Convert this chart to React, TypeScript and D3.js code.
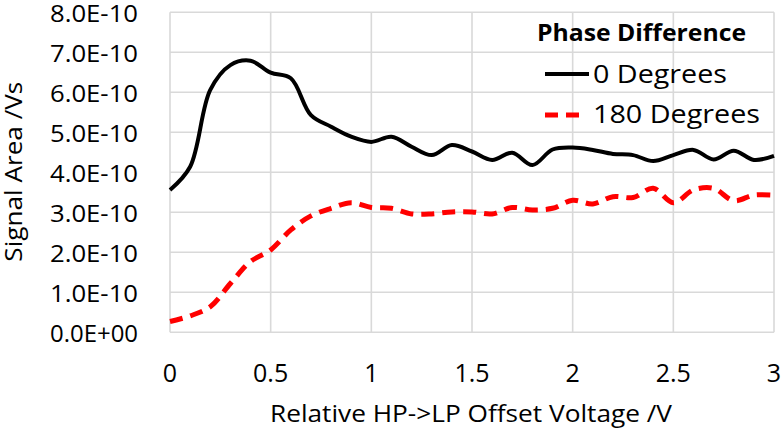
import React from "react";
import * as d3 from "d3";

const voltages = [0, 0.1, 0.2, 0.3, 0.4, 0.5, 0.6, 0.7, 0.8, 0.9, 1.0, 1.1, 1.2, 1.3, 1.4, 1.5, 1.6, 1.7, 1.8, 1.9, 2.0, 2.1, 2.2, 2.3, 2.4, 2.5, 2.6, 2.7, 2.8, 2.9, 3.0];
const deg0 = [3.56, 4.14, 6.06, 6.68, 6.79, 6.49, 6.35, 5.43, 5.14, 4.89, 4.76, 4.89, 4.64, 4.43, 4.68, 4.52, 4.31, 4.49, 4.18, 4.57, 4.62, 4.56, 4.46, 4.43, 4.28, 4.43, 4.56, 4.32, 4.54, 4.31, 4.41].map((v) => v * 1e-10);
const deg180 = [0.27, 0.41, 0.64, 1.22, 1.77, 2.06, 2.56, 2.91, 3.1, 3.24, 3.12, 3.1, 2.96, 2.96, 3.01, 3.01, 2.96, 3.12, 3.06, 3.1, 3.3, 3.21, 3.39, 3.37, 3.6, 3.24, 3.56, 3.6, 3.29, 3.43, 3.43].map((v) => v * 1e-10);
const xTicks = [0, 0.5, 1, 1.5, 2, 2.5, 3];
const yTicks = [0, 1e-10, 2e-10, 3e-10, 4e-10, 5e-10, 6e-10, 7e-10, 8e-10];
const yTickLabels = ["0.0E+00", "1.0E-10", "2.0E-10", "3.0E-10", "4.0E-10", "5.0E-10", "6.0E-10", "7.0E-10", "8.0E-10"];
const seriesNames = ["0 Degrees", "180 Degrees"];
const legendTitle = "Phase Difference";
const xTitle = "Relative HP->LP Offset Voltage /V";
const yTitle = "Signal Area /Vs";

export default function App() {
  const W = 782, H = 430;
  const left = 170, right = 774, top = 12.3, bottom = 332.3;
  const x = d3.scaleLinear().domain([0, 3]).range([left, right]);
  const y = d3.scaleLinear().domain([0, 8e-10]).range([bottom, top]);
  const font = "'Open Sans', sans-serif";
  const line = d3
    .line<number>()
    .x((_, i) => x(voltages[i]))
    .y((d) => y(d))
    .curve(d3.curveCatmullRom.alpha(0.5));

  return (
    <svg width={W} height={H} style={{ position: "absolute", left: 0, top: 0, background: "#fff" }} fontFamily={font}>
      {yTicks.map((t) => (
        <line key={"gy" + t} x1={left} x2={right} y1={y(t)} y2={y(t)} stroke="#d9d9d9" strokeWidth={1.6} />
      ))}
      {xTicks.map((t) => (
        <line key={"gx" + t} x1={x(t)} x2={x(t)} y1={top} y2={bottom} stroke="#d9d9d9" strokeWidth={1.6} />
      ))}
      {yTickLabels.map((lab, i) => (
        <text key={"ty" + i} x={50} y={y(yTicks[i]) + 9.6} fontSize={23.5} textLength={88} lengthAdjust="spacingAndGlyphs" fill="#000">
          {lab}
        </text>
      ))}
      {xTicks.map((t) => (
        <text key={"tx" + t} x={x(t)} y={381.5} textAnchor="middle" fontSize={25} fill="#000">
          {String(t)}
        </text>
      ))}
      <text x={270} y={421.5} fontSize={23.5} textLength={402} lengthAdjust="spacingAndGlyphs" fill="#000">
        {xTitle}
      </text>
      <text transform={`translate(22,261.7) rotate(-90)`} fontSize={23.5} textLength={180} lengthAdjust="spacingAndGlyphs" fill="#000">
        {yTitle}
      </text>
      <path d={line(deg0) || ""} fill="none" stroke="#000" strokeWidth={4} strokeLinejoin="round" />
      <path d={line(deg180) || ""} fill="none" stroke="#ff0000" strokeWidth={5} strokeDasharray="13,8" />
      <text x={537} y={41} fontSize={24} fontWeight="bold" textLength={209} lengthAdjust="spacingAndGlyphs" fill="#000">
        {legendTitle}
      </text>
      <line x1={545} x2={589} y1={74} y2={74} stroke="#000" strokeWidth={4} />
      <text x={593} y={83.3} fontSize={25.5} textLength={134} lengthAdjust="spacingAndGlyphs" fill="#000">
        {seriesNames[0]}
      </text>
      <line x1={545} x2={586} y1={115} y2={115} stroke="#ff0000" strokeWidth={5} strokeDasharray="13,8" />
      <text x={593} y={123.3} fontSize={25.5} textLength={167} lengthAdjust="spacingAndGlyphs" fill="#000">
        {seriesNames[1]}
      </text>
    </svg>
  );
}
